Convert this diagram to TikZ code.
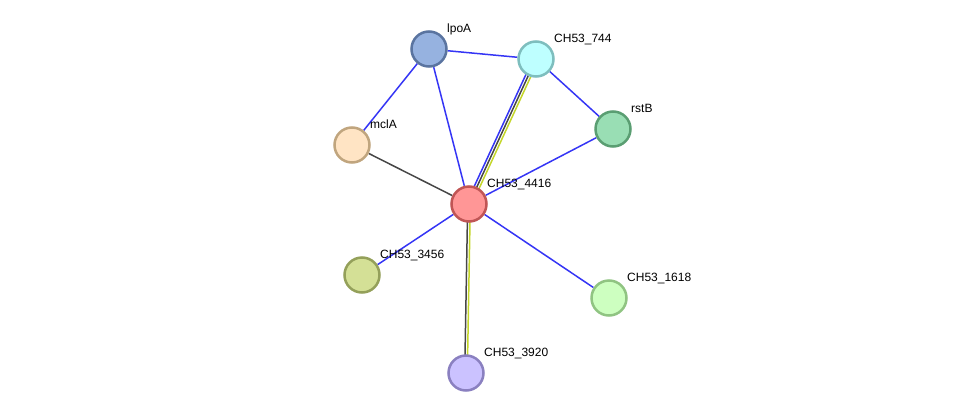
\documentclass[tikz,border=0pt]{standalone}
\usepackage{fontspec}
\setmainfont{Liberation Sans}
\usetikzlibrary{backgrounds}

\definecolor{edgeblue}{HTML}{3535F5}
\definecolor{edgegray}{HTML}{474747}
\definecolor{edgeyellow}{HTML}{C4D62A}

\definecolor{fillA}{HTML}{FF9696}\definecolor{drawA}{HTML}{C05555}
\definecolor{fillB}{HTML}{96B2E0}\definecolor{drawB}{HTML}{5A74A0}
\definecolor{fillC}{HTML}{BEFFFF}\definecolor{drawC}{HTML}{7EBEBE}
\definecolor{fillD}{HTML}{99DEB4}\definecolor{drawD}{HTML}{5A9E72}
\definecolor{fillE}{HTML}{FFE4C4}\definecolor{drawE}{HTML}{C0A57E}
\definecolor{fillF}{HTML}{D4E096}\definecolor{drawF}{HTML}{94A05A}
\definecolor{fillG}{HTML}{CDFFC0}\definecolor{drawG}{HTML}{90C482}
\definecolor{fillH}{HTML}{CBC2FF}\definecolor{drawH}{HTML}{8A80C0}

\tikzset{
  protein/.style={circle, minimum size=35pt, inner sep=0pt, line width=2.5pt},
  plabel/.style={anchor=base west, inner sep=0pt, font=\fontsize{12}{14}\selectfont},
  link/.style={line width=1.5pt}
}

\begin{document}
\begin{tikzpicture}[x=1pt, y=-1pt]
	\useasboundingbox (0,0) rectangle (975,418);

%nodes
	\foreach \xy/\name/\txt/\c in {
		{(469,204)/n4416/CH53\_4416/A},{(429,49)/lpoA/lpoA/B},{(536,59)/n744/CH53\_744/C},
		{(613,129)/rstB/rstB/D},{(352,145)/mclA/mclA/E},{(362,275)/n3456/CH53\_3456/F},
		{(609,298)/n1618/CH53\_1618/G},{(466,373)/n3920/CH53\_3920/H}} {
		\node[protein, fill=fill\c, draw=draw\c] (\name) at \xy {};
		\node[plabel] (\name-lab) at ([shift={(18,-16.5)}]\name.center) {\txt};
	}

%edges
	\begin{pgfonlayer}{background}
		\foreach \a/\b in {lpoA/n744, lpoA/mclA, lpoA/n4416, n744/rstB, rstB/n4416,
			n4416/n3456, n4416/n1618} {
			\draw[link, edgeblue] (\a) -- (\b);
		}
		\draw[link, edgegray] (mclA) -- (n4416);

		% triple line 744 - 4416
		\draw[link, edgeblue] ([shift={(-2.4,-1.1)}]n744.center) -- ([shift={(-2.4,-1.1)}]n4416.center);
		\draw[link, edgegray] (n744.center) -- (n4416.center);
		\draw[link, edgeyellow] ([shift={(2.4,1.1)}]n744.center) -- ([shift={(2.4,1.1)}]n4416.center);

		% double line 4416 - 3920
		\draw[link, edgegray] ([shift={(-1.3,0)}]n4416.center) -- ([shift={(-1.3,0)}]n3920.center);
		\draw[link, edgeyellow] ([shift={(1.3,0)}]n4416.center) -- ([shift={(1.3,0)}]n3920.center);
	\end{pgfonlayer}

\end{tikzpicture}
\end{document}
